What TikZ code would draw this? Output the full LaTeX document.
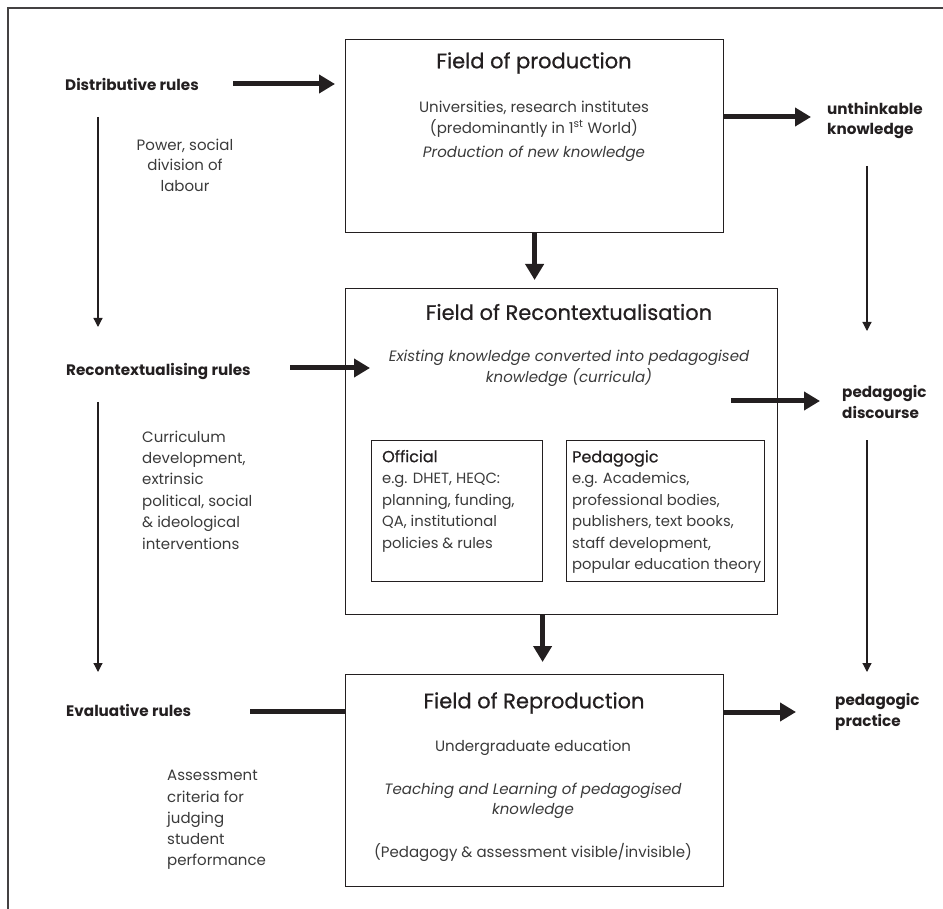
\documentclass[tikz,border=0pt]{standalone}
\usepackage{fontspec}
\setmainfont{Poppins}
\newfontfamily\medfont{Poppins}[FakeBold=0.7]
\usetikzlibrary{arrows.meta,calc}
\definecolor{ink}{HTML}{231F20}
\definecolor{bodytext}{HTML}{3A3A3A}
\newcommand{\boxhead}[1]{{\fontsize{16}{21.5}\medfont\color{ink}#1}}
\begin{document}
\begin{tikzpicture}[x=1pt,y=-1pt,
  fieldbox/.style={draw=ink,line width=1.2pt,anchor=north west,inner sep=0pt},
  title/.style={font=\fontsize{21}{25}\medfont,text=ink,inner sep=0pt},
  body/.style={font=\fontsize{15}{20.5}\selectfont,text=bodytext,align=center,inner sep=0pt},
  ital/.style={body,font=\fontsize{15}{20.5}\selectfont\itshape},
  listtext/.style={font=\fontsize{14.8}{21.5}\selectfont,text=bodytext,align=left,anchor=west,inner sep=0pt},
  rulelabel/.style={font=\fontsize{15.2}{20.5}\selectfont\bfseries,text=ink,align=left,anchor=west,inner sep=0pt},
  bigarrow/.style={draw=ink,line width=5pt,-{Triangle[length=16pt,width=18pt]}},
  bigline/.style={draw=ink,line width=5pt},
  thinarrow/.style={draw=ink,line width=1.2pt,-{Triangle[length=9pt,width=9pt]}}]

\useasboundingbox (0,0) rectangle (943,909);

% outer frame: top and left rules only
\draw[ink!85,line width=1.5pt] (8,909) -- (8,8) -- (943,8);

% field of production
\node[fieldbox,minimum width=378pt,minimum height=193pt] (prod) at (345,39) {};
\node[title] (prodT) at (534,63) {Field of production};
\node[body] (prodA) at (534,119) {Universities, research institutes\\(predominantly in 1\textsuperscript{st} World)};
\node[ital] (prodB) at (534,154) {Production of new knowledge};

% field of recontextualisation
\node[fieldbox,minimum width=432pt,minimum height=326pt] (recon) at (345,288) {};
\node[title] (reconT) at (569,312) {Field of Recontextualisation};
\node[ital] (reconA) at (569,368.5) {Existing knowledge converted into pedagogised\\knowledge (curricula)};
\node[fieldbox,minimum width=171pt,minimum height=141pt] (official) at (371,440) {};
\node[listtext] (officialT) at (382,501) {\boxhead{Official}\\e.g. DHET, HEQC:\\planning, funding,\\QA, institutional\\policies \& rules};
\node[fieldbox,minimum width=198pt,minimum height=141pt] (pedag) at (566,440) {};
\node[listtext] (pedagT) at (572,512) {\boxhead{Pedagogic}\\e.g. Academics,\\professional bodies,\\publishers, text books,\\staff development,\\popular education theory};

% field of reproduction
\node[fieldbox,minimum width=378pt,minimum height=212pt] (repro) at (345,674) {};
\node[title] (reproT) at (534,703) {Field of Reproduction};
\node[body] (reproA) at (533,748) {Undergraduate education};
\node[ital] (reproB) at (533,801) {Teaching and Learning of pedagogised\\knowledge};
\node[body] (reproC) at (533,852) {(Pedagogy \& assessment visible/invisible)};

% rules on the left
\node[rulelabel] (distr) at (65,84) {Distributive rules};
\node[body] (power) at (185,165) {Power, social\\division of\\labour};
\node[rulelabel] (recrules) at (66,372) {Recontextualising rules};
\node[listtext,font=\fontsize{15}{21.4}\selectfont] (curric) at (142,490) {Curriculum\\development,\\extrinsic\\political, social\\\& ideological\\interventions};
\node[rulelabel] (evalrules) at (66,710) {Evaluative rules};
\node[listtext,font=\fontsize{15}{21.2}\selectfont] (assess) at (167,820) {Assessment\\criteria for\\judging\\student\\performance};

% outcomes on the right
\node[rulelabel] (unth) at (827,120.5) {unthinkable\\knowledge};
\node[rulelabel] (pdisc) at (842,402) {pedagogic\\discourse};
\node[rulelabel] (pprac) at (835,712) {pedagogic\\practice};

% heavy connectors
\draw[bigarrow] ($(distr.center -| prod.west)+(-112,0)$) -- ($(distr.center -| prod.west)+(-10,0)$);
\draw[bigarrow] ($(prod.east |- unth.center)+(0,-3.5)$) -- ($(unth.west)+(-16,-3.5)$);
\draw[bigarrow] (prod.south) -- ($(prod.south |- recon.north)+(0,-8)$);
\coordinate (rin) at (370,368);
\draw[bigarrow] ($(recon.west |- rin)+(-55,0)$) -- (rin);
\coordinate (dout) at (731,401);
\draw[bigarrow] (dout) -- ($(dout -| pdisc.west)+(-22,0)$);
\draw[bigarrow] ($(recon.south)+(-19,0)$) -- ($(recon.south |- repro.north)+(-19,-12)$);
\draw[bigline] ($(evalrules.center -| repro.west)+(-95,1)$) -- ($(evalrules.center -| repro.west)+(0,1)$);
\draw[bigarrow] (repro.east |- pprac.center) -- ($(pprac.west)+(-39,0)$);

% thin connectors
\coordinate (lx) at (98,0);
\coordinate (rx) at (867,0);
\draw[thinarrow] ($(distr.center -| lx)+(0,33)$) -- ($(recrules.center -| lx)+(0,-45)$);
\draw[thinarrow] ($(recrules.center -| lx)+(0,30)$) -- ($(evalrules.center -| lx)+(0,-38)$);
\draw[thinarrow] ($(unth.center -| rx)+(0,45.5)$) -- ($(pdisc.center -| rx)+(0,-71)$);
\draw[thinarrow] ($(pdisc.center -| rx)+(0,38)$) -- ($(pprac.center -| rx)+(0,-40)$);
\end{tikzpicture}
\end{document}
